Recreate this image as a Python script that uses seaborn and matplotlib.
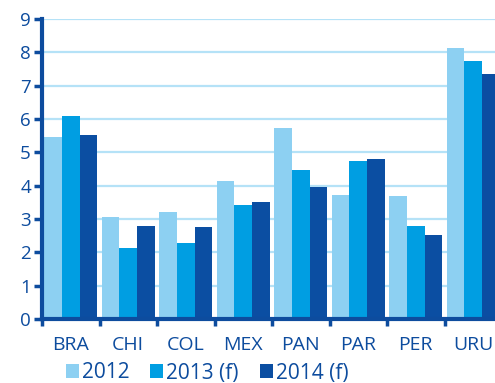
import pandas as pd
import matplotlib
matplotlib.use("Agg")
import matplotlib.pyplot as plt
import seaborn as sns

# --- data ---
countries = ["BRA", "CHI", "COL", "MEX", "PAN", "PAR", "PER", "URU"]
series_names = ["2012", "2013 (f)", "2014 (f)"]
v2012 = [5.46, 3.05, 3.20, 4.14, 5.74, 3.72, 3.69, 8.12]
v2013 = [6.09, 2.13, 2.28, 3.43, 4.48, 4.75, 2.78, 7.75]
v2014 = [5.52, 2.78, 2.75, 3.50, 3.96, 4.80, 2.51, 7.35]
y_ticks = list(range(0, 10))

colors = ["#8DD0F2", "#009EE2", "#0B4EA2"]
axis_blue = "#0D4C9E"
grid_blue = "#B5E2F7"

df = pd.DataFrame({
    "Country": countries * 3,
    "Year": [s for s in series_names for _ in countries],
    "Value": v2012 + v2013 + v2014,
})

sns.set_style("white")
plt.rcParams["font.family"] = ["Open Sans", "DejaVu Sans"]

fig = plt.figure(figsize=(4.95, 3.83), dpi=100)
# axes runs a little past the right edge, like the cropped original
ax = fig.add_axes([42 / 495, 64 / 383, 460 / 495, 300 / 383])

sns.barplot(data=df, x="Country", y="Value", hue="Year", order=countries,
            hue_order=series_names, palette=colors, width=0.93,
            linewidth=0, saturation=1, ax=ax, legend=True)

ax.set_xlim(-0.5, 7.5)
ax.set_ylim(0, 9)
ax.set_yticks(y_ticks)
ax.yaxis.grid(True, color=grid_blue, linewidth=1.6)
ax.set_axisbelow(True)

# ticks between groups, labels at group centres
ax.set_xticks([i - 0.5 for i in range(len(countries) + 1)])
ax.set_xticklabels([])
ax.set_xticks(range(len(countries)), minor=True)
ax.set_xticklabels(countries, minor=True)
ax.tick_params(axis="x", which="major", length=5, width=2.5, color=axis_blue,
               direction="out", bottom=True)
ax.tick_params(axis="x", which="minor", length=0, pad=12, labelsize=14,
               labelcolor=axis_blue)
ax.tick_params(axis="y", length=6, width=2.5, color=axis_blue, pad=2,
               labelsize=13.5, labelcolor=axis_blue, left=True)

for side in ["top", "right"]:
    ax.spines[side].set_visible(False)
for side in ["left", "bottom"]:
    ax.spines[side].set_color(axis_blue)
    ax.spines[side].set_linewidth(3)

ax.set_xlabel("")
ax.set_ylabel("")

handles, labels = ax.get_legend_handles_labels()
ax.get_legend().remove()
leg = fig.legend(handles, labels, loc="center", bbox_to_anchor=(207 / 495, 10 / 383),
                 ncol=3, frameon=False, fontsize=15, handlelength=0.62,
                 handleheight=0.62, handletextpad=0.15, columnspacing=1.0,
                 borderpad=0, borderaxespad=0)
for t in leg.get_texts():
    t.set_color(axis_blue)

fig.savefig("out.png", dpi=100)
